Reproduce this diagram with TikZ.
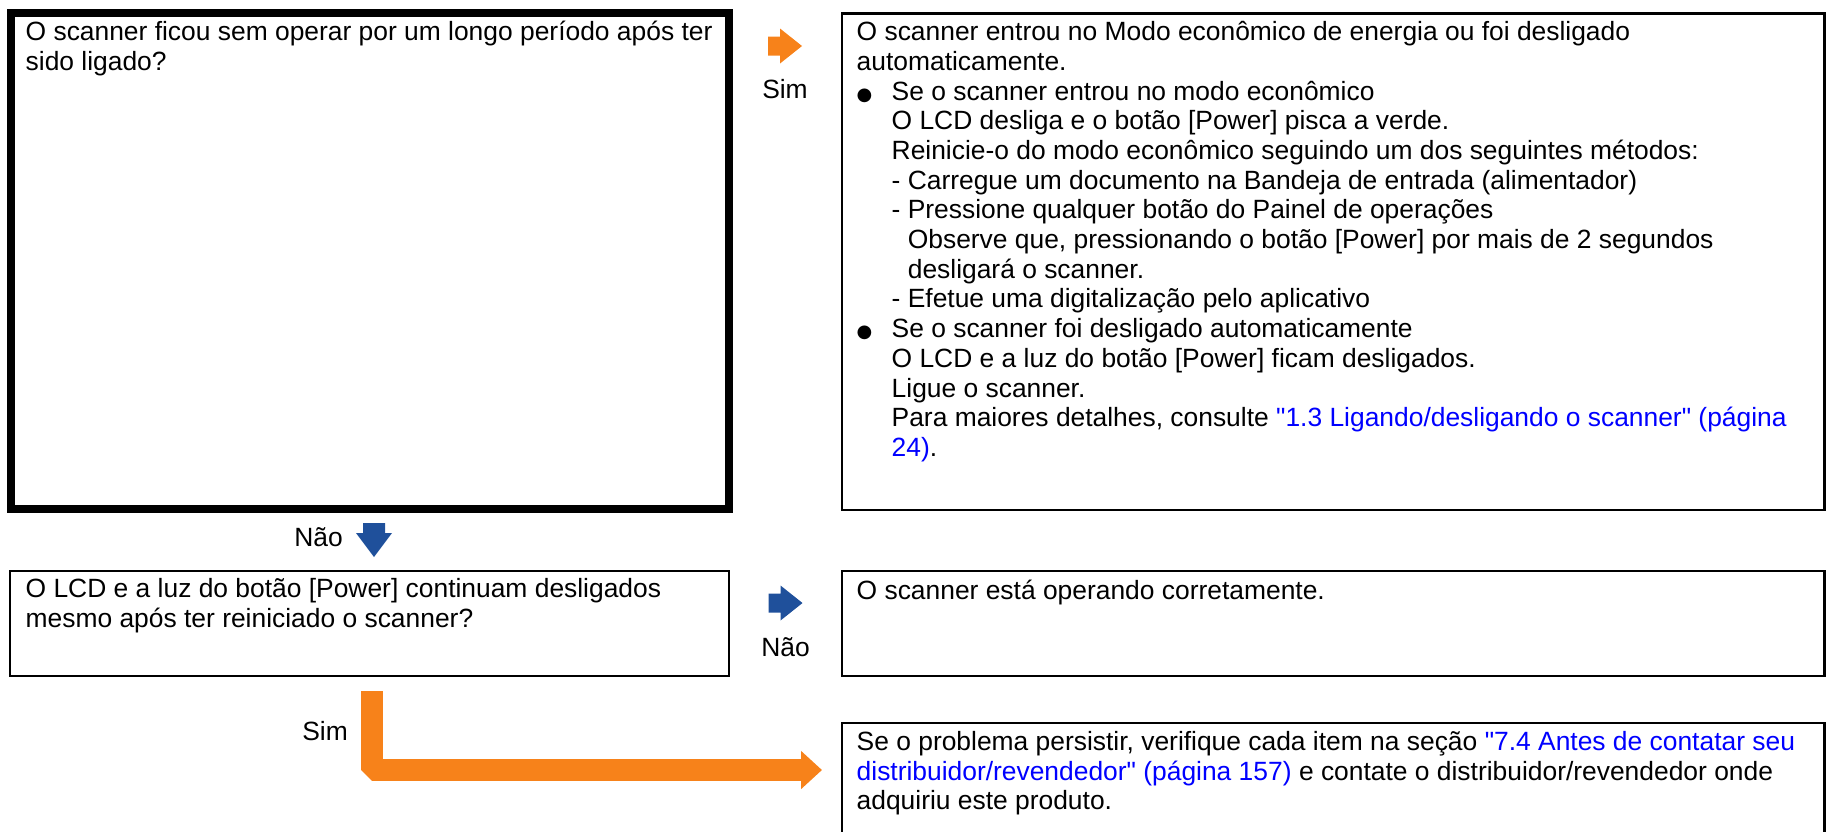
\documentclass[tikz,border=0pt]{standalone}
\usepackage{fontspec}
\setmainfont{Liberation Sans}[Ligatures=TeXOff]
\newfontfamily\symfont{DejaVu Sans}
\usetikzlibrary{arrows.meta}
\definecolor{arrorange}{RGB}{247,130,26}
\definecolor{arrblue}{RGB}{31,80,155}
\definecolor{linkblue}{RGB}{0,0,255}
\newcommand{\bul}{\makebox[35pt][l]{\symfont\fontsize{18}{18}\selectfont ●}}
\newcommand{\indA}{\hspace*{35pt}}
\newcommand{\indB}{\hspace*{35pt}\phantom{- }}
\begin{document}
\begin{tikzpicture}[x=1pt,y=-1pt,
  thickbox/.style={draw, line width=8pt, rectangle, outer sep=0pt, inner sep=0pt, anchor=north west},
  thinbox/.style={draw, line width=2.2pt, rectangle, outer sep=0pt, inner sep=0pt, anchor=north west},
  txt/.style={font=\fontsize{26.4}{29.7}\selectfont, align=left, anchor=north west, inner sep=0pt, yshift=20.79pt, execute at begin node=\strut},
  lbl/.style={font=\fontsize{26.4}{29.7}\selectfont, inner sep=0pt},
  rarrow/.pic={\fill[#1] (-17,-9.5) -- (-5,-9.5) -- (-5,-17.5) -- (17,0) -- (-5,17.5) -- (-5,9.5) -- (-17,9.5) -- cycle;},
  darrow/.pic={\fill[#1] (-11,-17) -- (11,-17) -- (11,-7) -- (18,-7) -- (0,17) -- (-18,-7) -- (-11,-7) -- cycle;}
]
\useasboundingbox (0,0) rectangle (1827,831);
\clip (0,0) rectangle (1827,831);

% boxes
\node[thickbox, minimum width=718.5pt, minimum height=496pt] (q1) at (10.5,13) {};
\node[thinbox, minimum width=982.5pt, minimum height=496.5pt] (a1) at (842,13.5) {};
\node[thinbox, minimum width=719pt, minimum height=105pt] (q2) at (10,571) {};
\node[thinbox, minimum width=982.5pt, minimum height=105pt] (a2) at (842,571) {};
\node[thinbox, minimum width=982.5pt, minimum height=140pt] (a3) at (842,723) {};

% texts (positions given at the first baseline)
\node[txt] (t1) at (25.5,42) {O scanner ficou sem operar por um longo período após ter\\sido ligado?};
\node[txt] (ta1) at (856.5,42) {O scanner entrou no Modo econômico de energia ou foi desligado\\
automaticamente.\\
\bul Se o scanner entrou no modo econômico\\
\indA O LCD desliga e o botão [Power] pisca a verde.\\
\indA Reinicie-o do modo econômico seguindo um dos seguintes métodos:\\
\indA - Carregue um documento na Bandeja de entrada (alimentador)\\
\indA - Pressione qualquer botão do Painel de operações\\
\indB Observe que, pressionando o botão [Power] por mais de 2 segundos\\
\indB desligará o scanner.\\
\indA - Efetue uma digitalização pelo aplicativo\\
\bul Se o scanner foi desligado automaticamente\\
\indA O LCD e a luz do botão [Power] ficam desligados.\\
\indA Ligue o scanner.\\
\indA Para maiores detalhes, consulte \textcolor{linkblue}{"1.3 Ligando/desligando o scanner" (página}\\
\indA \textcolor{linkblue}{24)}.};
\node[txt] (t2) at (25.5,599) {O LCD e a luz do botão [Power] continuam desligados\\mesmo após ter reiniciado o scanner?};
\node[txt] (ta2) at (856.5,599) {O scanner está operando corretamente.};
\node[txt] (ta3) at (856.5,752) {Se o problema persistir, verifique cada item na seção \textcolor{linkblue}{"7.4 Antes de contatar seu}\\
\textcolor{linkblue}{distribuidor/revendedor" (página 157)} e contate o distribuidor/revendedor onde\\
adquiriu este produto.};

% labels
\node[lbl, anchor=base] (sim1) at (785,98) {Sim};
\node[lbl, anchor=base east] (nao1) at (343,546) {Não};
\node[lbl, anchor=base] (nao2) at (785.5,656) {Não};
\node[lbl, anchor=base east] (sim2) at (348,740) {Sim};

% arrows
\pic at (785,46) {rarrow=arrorange};
\pic at (374,540) {darrow=arrblue};
\pic at (785.5,603) {rarrow=arrblue};
\coordinate (lstart) at (372,691);
\coordinate (lend) at (822,770);
\draw[arrorange, line width=22pt, line join=bevel, -{Triangle[length=21pt,width=37pt]}] (lstart) |- (lend);
\end{tikzpicture}
\end{document}
